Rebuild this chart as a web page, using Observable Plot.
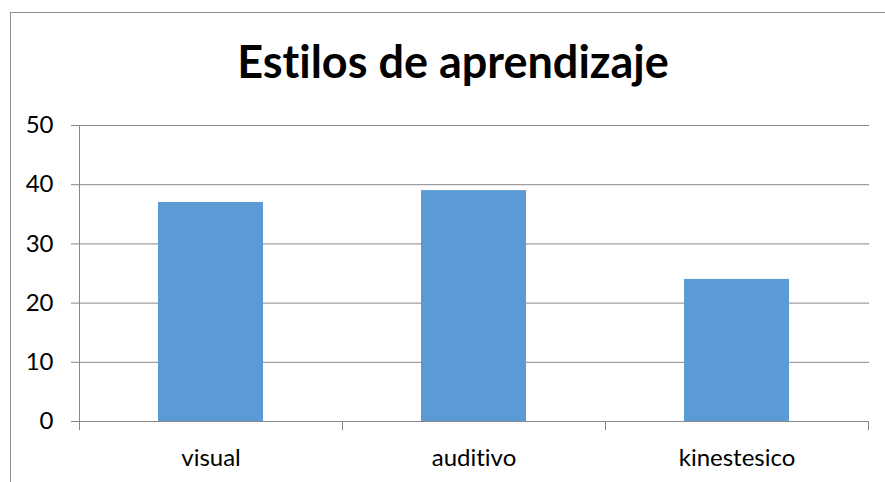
<!DOCTYPE html>
<html>
<head>
<meta charset="utf-8">
<script src="https://cdn.jsdelivr.net/npm/d3@7"></script>
<script src="https://cdn.jsdelivr.net/npm/@observablehq/plot@0.6"></script>
<style>
  html, body { margin: 0; padding: 0; background: #fff; }
  #wrap { position: relative; width: 885px; height: 482px; overflow: hidden; font-family: Lato, "Open Sans", sans-serif; font-variant-ligatures: none; font-feature-settings: "liga" 0, "clig" 0; }
  #frame { position: absolute; left: 10px; top: 12px; width: 900px; height: 500px; border: 1px solid #8e8e8e; box-sizing: border-box; }
  #title { position: absolute; left: 0; width: 906px; top: 33px; text-align: center; font-weight: bold; font-size: 45px; color: #000; line-height: 56px; }
  #chart { position: absolute; left: 0; top: 110px; }
  #chart svg text { font-variant-ligatures: none; font-feature-settings: "liga" 0, "clig" 0; }
</style>
</head>
<body>
<div id="wrap">
  <div id="frame"></div>
  <div id="title">Estilos de aprendizaje</div>
  <div id="chart"></div>
</div>
<script>
const categories = ["visual", "auditivo", "kinestesico"];
const values = [37, 39, 24];
const yTicks = [0, 10, 20, 30, 40, 50];

const data = categories.map((c, i) => ({cat: c, value: values[i]}));
const gray = "#878787";

const chart = Plot.plot({
  width: 885,
  height: 372,
  marginTop: 15,
  marginBottom: 61,
  marginLeft: 79,
  marginRight: 16,
  style: {fontFamily: "Lato, 'Open Sans', sans-serif", fontSize: "24px", color: "#000", background: "transparent"},
  x: {domain: categories, paddingInner: 0.6, paddingOuter: 0.3, label: null},
  y: {domain: [0, 50], label: null},
  marks: [
    Plot.gridY(yTicks, {stroke: gray, strokeOpacity: 1}),
    Plot.axisY(yTicks, {tickSize: 8, tickPadding: 18, stroke: gray, fill: "#000", fontSize: 24, label: null}),
    Plot.barY(data, {x: "cat", y: "value", fill: "#5b9bd5"}),
    Plot.ruleY([0], {stroke: gray}),
    Plot.axisX({tickSize: 0, tickPadding: 27, fill: "#000", fontSize: 24, label: null})
  ]
});
document.getElementById("chart").appendChild(chart);

// Category boundary ticks and left axis line, placed through the x and y scales
const xs = chart.scale("x");
const ys = chart.scale("y");
const bounds = categories.map(c => xs.apply(c) + xs.bandwidth / 2 - xs.step / 2);
bounds.push(xs.apply(categories[categories.length - 1]) + xs.bandwidth / 2 + xs.step / 2);
const svg = d3.select(chart);
const g = svg.append("g").attr("stroke", gray).attr("stroke-width", 1);
const y0 = ys.apply(0), y50 = ys.apply(50);
g.selectAll("line.b").data(bounds).join("line")
  .attr("x1", d => Math.round(d) + 0.5).attr("x2", d => Math.round(d) + 0.5)
  .attr("y1", y0).attr("y2", y0 + 9);
g.append("line")
  .attr("x1", Math.round(bounds[0]) + 0.5).attr("x2", Math.round(bounds[0]) + 0.5)
  .attr("y1", y50).attr("y2", y0);
</script>
</body>
</html>
